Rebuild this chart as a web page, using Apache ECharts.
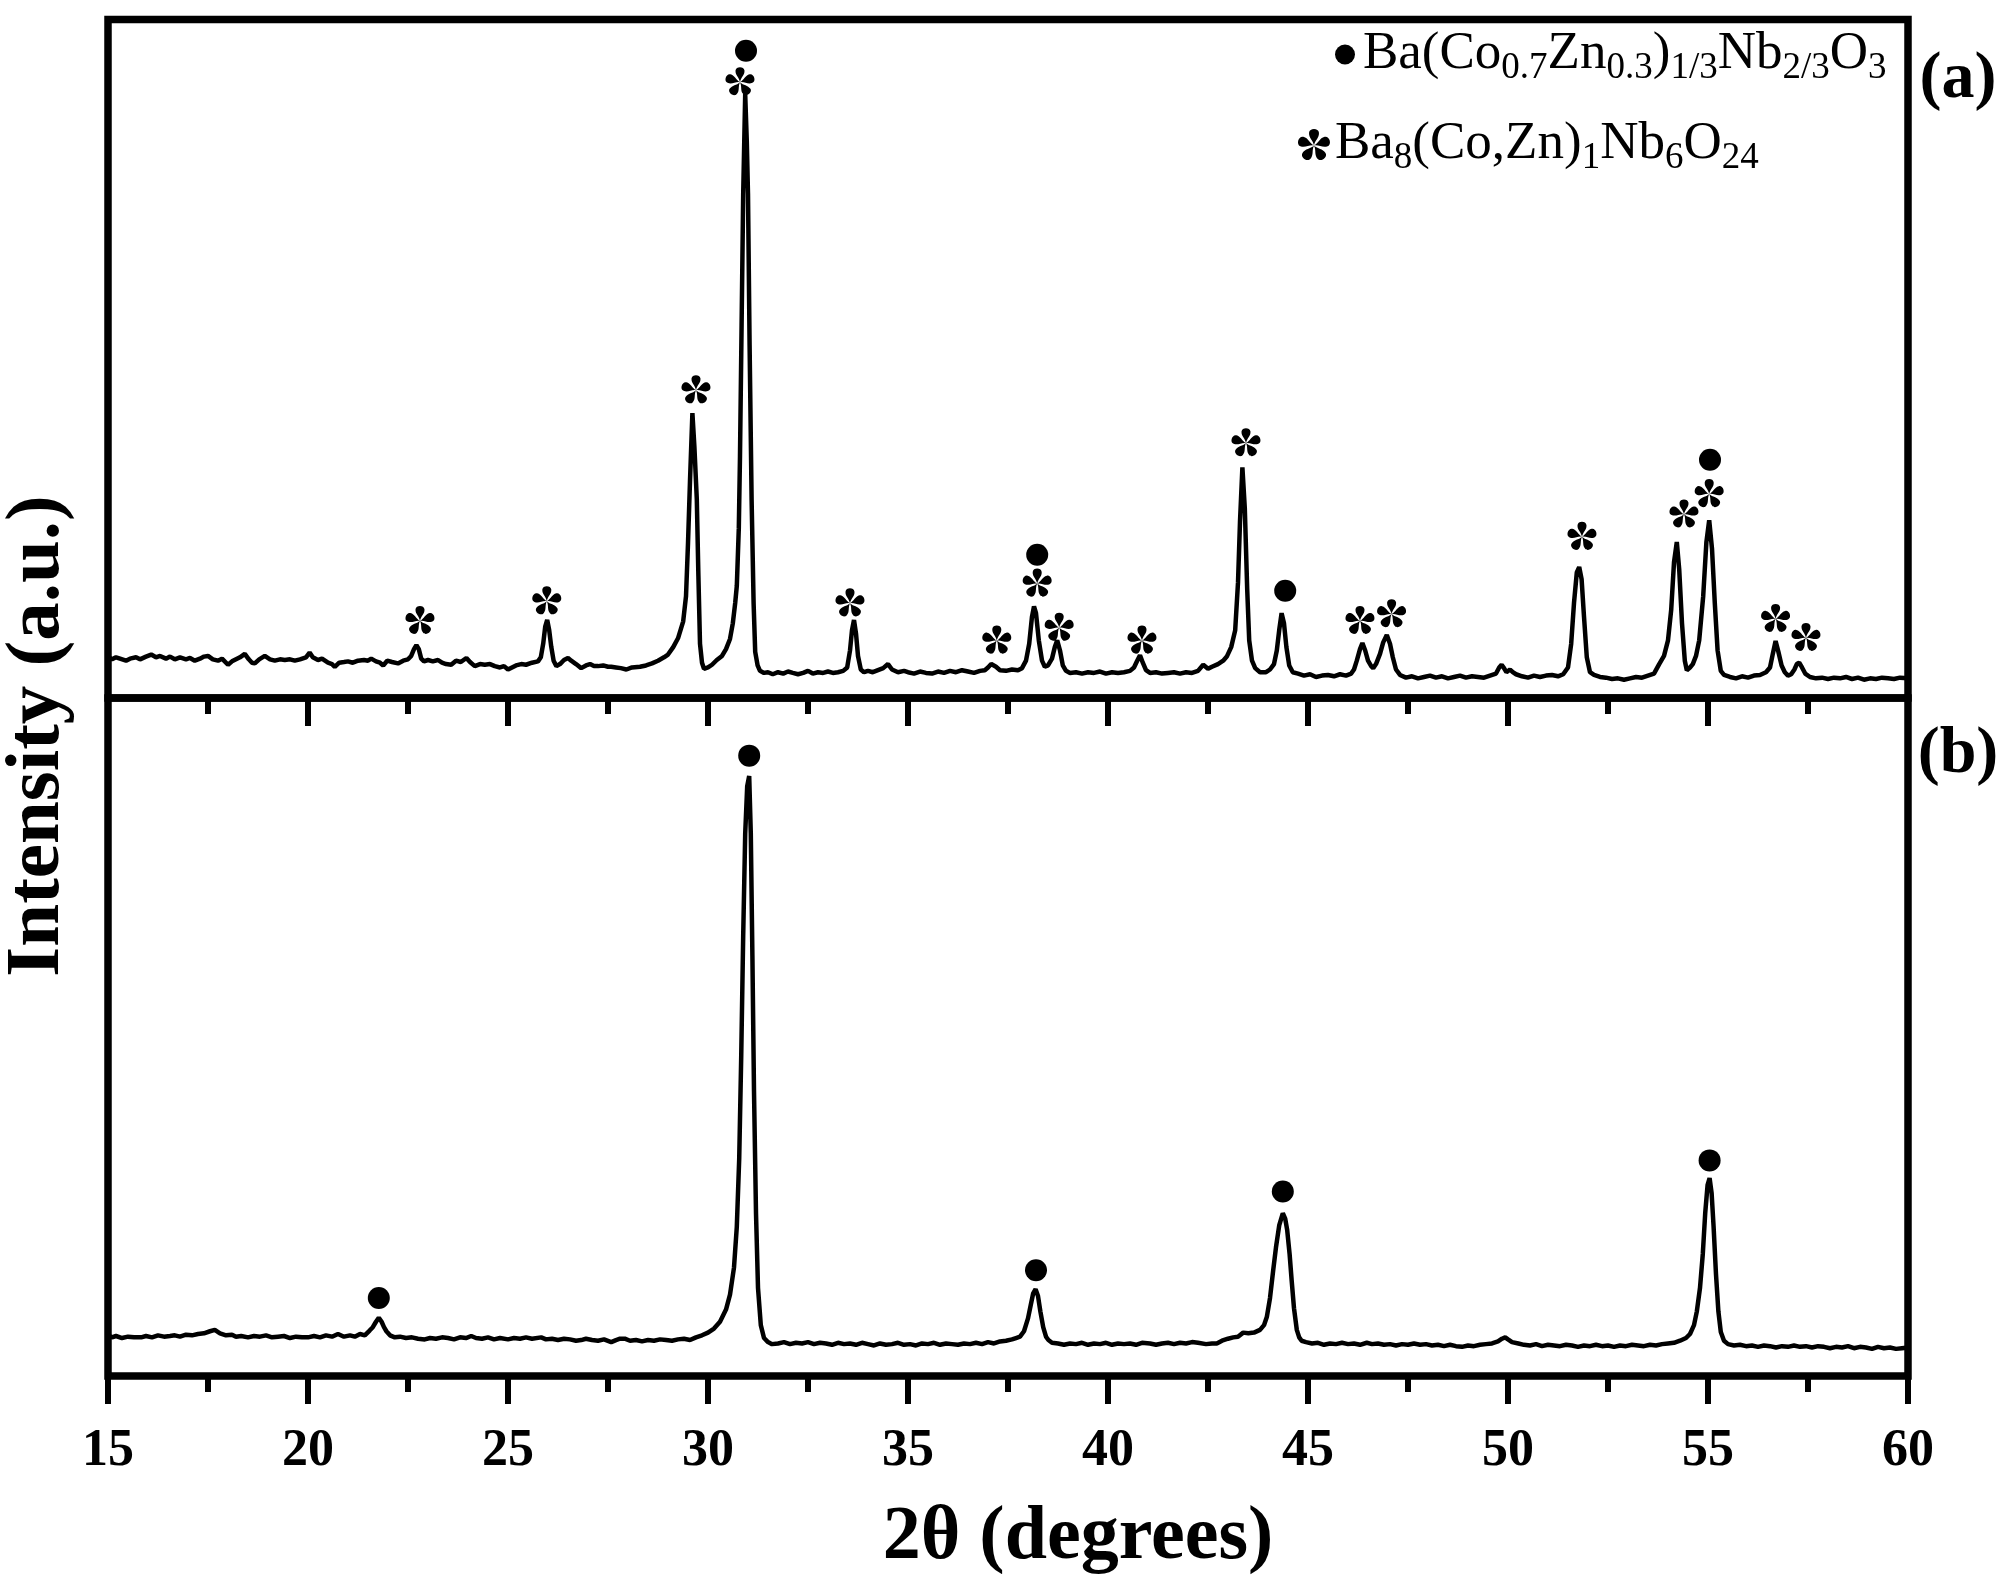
<!DOCTYPE html>
<html>
<head>
<meta charset="utf-8">
<script src="https://cdn.jsdelivr.net/npm/echarts@6/dist/echarts.min.js"></script>
<style>
html,body{margin:0;padding:0;background:#fff;}
#xrd{width:2008px;height:1590px;}
</style>
</head>
<body>
<div id="xrd"></div>
<script>
// 2theta / intensity pairs (a.u., 0-1000 per panel)
var patternA = [
[15.0,61],[15.1,57],[15.2,60],[15.3,58],[15.45,55],[15.55,58],[15.7,60],[15.8,57],[15.95,61],[16.08,64],
[16.2,60],[16.3,62],[16.45,58],[16.55,61],[16.67,57],[16.8,60],[16.95,57],[17.05,59],[17.17,55],[17.3,58],
[17.4,61],[17.5,62],[17.62,57],[17.75,55],[17.85,58],[18.0,49],[18.1,54],[18.2,57],[18.3,60],[18.42,65],
[18.52,57],[18.6,52],[18.67,51],[18.78,57],[18.92,62],[19.05,57],[19.17,55],[19.3,57],[19.42,56],[19.55,57],
[19.67,55],[19.8,57],[19.95,60],[20.04,67],[20.12,60],[20.25,56],[20.35,58],[20.5,52],[20.6,50],[20.67,46],
[20.78,52],[20.9,53],[21.0,54],[21.12,52],[21.25,55],[21.4,56],[21.5,55],[21.58,58],[21.7,54],[21.8,52],
[21.88,48],[21.98,55],[22.1,53],[22.25,51],[22.38,55],[22.5,57],[22.58,62],[22.65,72],[22.71,78],[22.77,72],
[22.83,58],[22.9,54],[23.0,56],[23.12,54],[23.25,56],[23.35,52],[23.45,50],[23.58,49],[23.7,55],[23.82,53],
[23.96,59],[24.05,53],[24.17,47],[24.3,50],[24.42,49],[24.55,50],[24.67,47],[24.8,45],[24.9,47],[25.0,42],
[25.1,45],[25.2,48],[25.33,50],[25.45,49],[25.6,52],[25.75,54],[25.82,60],[25.88,80],[25.93,105],[25.98,115],
[26.03,100],[26.08,76],[26.14,55],[26.21,47],[26.3,50],[26.4,56],[26.5,59],[26.58,55],[26.7,50],[26.83,44],
[26.95,48],[27.05,50],[27.15,47],[27.25,47],[27.38,48],[27.5,46],[27.58,46],[27.7,45],[27.82,44],[27.96,42],
[28.1,45],[28.3,46],[28.45,48],[28.6,51],[28.75,55],[28.9,60],[29.0,64],[29.13,75],[29.25,88],[29.38,113],
[29.45,150],[29.5,228],[29.55,320],[29.61,420],[29.66,370],[29.72,293],[29.76,180],[29.8,80],[29.85,52],[29.9,43],
[30.0,45],[30.1,49],[30.22,56],[30.35,62],[30.45,72],[30.55,87],[30.62,110],[30.68,140],[30.72,165],[30.77,250],
[30.8,357],[30.84,550],[30.88,743],[30.93,890],[30.97,820],[31.0,743],[31.04,520],[31.09,293],[31.14,140],[31.18,68],
[31.24,48],[31.3,40],[31.4,37],[31.5,38],[31.62,35],[31.75,38],[31.88,36],[32.0,39],[32.12,37],[32.25,35],
[32.38,37],[32.5,40],[32.62,36],[32.75,38],[32.88,37],[33.0,39],[33.12,37],[33.25,38],[33.38,40],[33.48,45],
[33.55,70],[33.6,100],[33.65,115],[33.7,95],[33.75,62],[33.82,42],[33.9,38],[34.0,40],[34.12,38],[34.25,41],
[34.38,44],[34.5,50],[34.6,42],[34.75,38],[34.9,40],[35.0,38],[35.15,36],[35.3,39],[35.45,37],[35.6,36],
[35.75,39],[35.9,37],[36.05,40],[36.2,38],[36.35,41],[36.5,39],[36.65,37],[36.8,40],[36.92,41],[37.0,45],
[37.08,50],[37.13,52],[37.2,46],[37.3,41],[37.45,40],[37.6,42],[37.75,41],[37.85,44],[37.95,55],[38.03,80],
[38.1,120],[38.15,135],[38.2,125],[38.27,85],[38.35,55],[38.42,46],[38.5,48],[38.6,58],[38.67,75],[38.73,85],
[38.8,70],[38.87,48],[38.95,40],[39.05,37],[39.2,38],[39.35,36],[39.5,38],[39.65,37],[39.8,39],[39.95,36],
[40.1,38],[40.25,37],[40.4,38],[40.55,40],[40.65,45],[40.73,55],[40.8,63],[40.87,52],[40.95,41],[41.05,37],
[41.2,38],[41.35,36],[41.5,37],[41.65,38],[41.8,36],[41.95,38],[42.1,37],[42.25,40],[42.38,49],[42.5,43],
[42.6,46],[42.75,50],[42.88,55],[42.97,61],[43.08,75],[43.18,100],[43.25,170],[43.3,260],[43.36,340],[43.42,280],
[43.48,160],[43.53,85],[43.6,55],[43.68,44],[43.8,38],[43.95,38],[44.05,42],[44.15,50],[44.22,70],[44.28,100],
[44.34,125],[44.4,110],[44.46,75],[44.53,48],[44.62,38],[44.75,36],[44.9,33],[45.05,35],[45.2,31],[45.35,33],
[45.5,34],[45.65,32],[45.8,35],[45.95,33],[46.08,36],[46.15,42],[46.22,55],[46.3,72],[46.36,81],[46.43,70],
[46.5,55],[46.58,47],[46.63,44],[46.7,50],[46.8,65],[46.88,82],[46.97,93],[47.05,80],[47.12,60],[47.2,42],
[47.3,34],[47.45,30],[47.6,32],[47.75,29],[47.9,31],[48.05,33],[48.2,30],[48.35,32],[48.5,29],[48.65,31],
[48.8,33],[48.95,30],[49.1,32],[49.25,31],[49.4,30],[49.55,33],[49.7,36],[49.78,45],[49.84,49],[49.9,44],
[49.96,38],[50.05,42],[50.12,38],[50.2,35],[50.35,32],[50.5,30],[50.65,33],[50.8,31],[50.95,33],[51.1,34],
[51.25,32],[51.38,35],[51.5,45],[51.58,80],[51.65,140],[51.72,185],[51.78,193],[51.84,175],[51.9,120],[51.97,60],
[52.05,38],[52.15,34],[52.3,31],[52.45,30],[52.6,28],[52.75,29],[52.9,27],[53.05,29],[53.2,31],[53.35,30],
[53.5,33],[53.65,36],[53.78,50],[53.9,62],[54.0,85],[54.08,130],[54.15,200],[54.22,230],[54.28,190],[54.35,110],
[54.42,55],[54.47,41],[54.55,45],[54.62,50],[54.7,62],[54.78,85],[54.88,150],[54.96,230],[55.03,262],[55.1,220],
[55.17,140],[55.24,70],[55.32,40],[55.4,34],[55.55,31],[55.7,29],[55.85,32],[56.0,30],[56.15,33],[56.3,34],
[56.45,38],[56.55,45],[56.62,65],[56.69,84],[56.76,68],[56.84,48],[56.92,38],[57.0,33],[57.08,35],[57.16,42],
[57.22,50],[57.28,52],[57.35,45],[57.43,36],[57.55,31],[57.7,29],[57.85,30],[58.0,28],[58.15,30],[58.3,29],
[58.45,31],[58.6,28],[58.75,30],[58.9,27],[59.05,29],[59.2,28],[59.35,30],[59.5,29],[59.65,28],[59.8,30],
[60.0,29]
];

var patternB = [
[15.0,60],[15.1,57],[15.2,59],[15.35,56],[15.5,58],[15.65,57],[15.83,57],[15.95,59],[16.1,57],[16.25,60],
[16.4,58],[16.55,59],[16.67,60],[16.8,58],[16.95,61],[17.1,60],[17.25,62],[17.4,63],[17.55,66],[17.67,68],
[17.8,63],[17.95,60],[18.1,61],[18.2,58],[18.33,59],[18.5,57],[18.65,59],[18.8,58],[18.95,60],[19.1,57],
[19.25,58],[19.4,59],[19.55,56],[19.7,58],[19.85,57],[20.0,57],[20.15,59],[20.3,57],[20.45,60],[20.6,58],
[20.75,62],[20.9,58],[21.05,60],[21.17,58],[21.3,62],[21.42,60],[21.54,67],[21.62,72],[21.7,80],[21.77,86],
[21.84,80],[21.9,72],[21.96,66],[22.05,60],[22.17,57],[22.3,58],[22.45,56],[22.6,57],[22.75,55],[22.92,54],
[23.05,56],[23.2,55],[23.35,57],[23.5,56],[23.65,54],[23.8,57],[23.95,56],[24.08,59],[24.2,56],[24.35,55],
[24.5,57],[24.65,54],[24.8,56],[25.0,54],[25.15,56],[25.3,55],[25.45,57],[25.6,55],[25.83,57],[25.95,54],
[26.1,55],[26.25,53],[26.4,55],[26.55,54],[26.7,52],[26.83,53],[26.95,55],[27.1,53],[27.25,52],[27.4,54],
[27.58,50],[27.7,53],[27.8,55],[27.92,55],[28.05,52],[28.2,53],[28.35,51],[28.5,53],[28.65,52],[28.8,54],
[28.95,53],[29.1,52],[29.25,54],[29.4,55],[29.55,53],[29.7,57],[29.85,60],[30.0,64],[30.15,70],[30.3,80],
[30.45,98],[30.55,120],[30.65,160],[30.72,220],[30.78,320],[30.83,470],[30.88,650],[30.93,800],[30.98,870],[31.03,885],
[31.07,800],[31.11,620],[31.15,420],[31.2,240],[31.25,130],[31.32,75],[31.4,56],[31.5,50],[31.6,47],[31.75,48],
[31.9,50],[32.05,47],[32.2,49],[32.35,48],[32.5,50],[32.65,47],[32.8,49],[32.95,48],[33.1,46],[33.25,49],
[33.4,47],[33.55,48],[33.7,46],[33.85,49],[34.0,47],[34.15,45],[34.3,48],[34.45,46],[34.6,47],[34.75,49],
[34.9,46],[35.05,47],[35.2,45],[35.35,48],[35.5,47],[35.65,49],[35.8,46],[35.95,48],[36.1,47],[36.25,46],
[36.4,48],[36.55,47],[36.7,49],[36.85,47],[37.0,50],[37.15,48],[37.3,51],[37.45,52],[37.6,54],[37.7,56],
[37.8,58],[37.9,66],[38.0,85],[38.07,105],[38.13,122],[38.19,128],[38.25,118],[38.31,95],[38.38,72],[38.45,58],
[38.51,53],[38.6,49],[38.75,48],[38.9,46],[39.05,48],[39.2,47],[39.35,49],[39.5,46],[39.65,48],[39.8,47],
[39.95,49],[40.1,46],[40.25,48],[40.4,47],[40.55,48],[40.7,46],[40.85,49],[41.05,48],[41.2,46],[41.35,48],
[41.5,49],[41.65,47],[41.8,49],[41.95,48],[42.1,50],[42.25,49],[42.3,51],[42.45,47],[42.6,48],[42.72,48],
[42.85,52],[43.0,55],[43.13,57],[43.25,58],[43.38,64],[43.51,63],[43.65,64],[43.8,68],[43.9,75],[43.97,87],
[44.05,115],[44.13,156],[44.2,190],[44.28,222],[44.37,240],[44.43,232],[44.48,215],[44.54,180],[44.59,142],[44.65,100],
[44.72,68],[44.78,57],[44.84,52],[44.95,50],[45.1,48],[45.25,49],[45.4,46],[45.55,48],[45.7,47],[45.85,49],
[46.0,47],[46.15,48],[46.3,46],[46.47,49],[46.6,47],[46.75,48],[46.9,46],[47.05,47],[47.2,45],[47.35,47],
[47.5,46],[47.65,48],[47.8,46],[47.95,47],[48.1,45],[48.25,46],[48.4,44],[48.55,46],[48.7,44],[48.85,43],
[49.0,45],[49.15,44],[49.3,46],[49.45,47],[49.6,48],[49.75,51],[49.85,55],[49.93,57],[50.0,54],[50.1,50],
[50.26,48],[50.4,46],[50.55,45],[50.7,47],[50.85,44],[51.0,46],[51.15,45],[51.3,44],[51.45,46],[51.6,45],
[51.75,43],[51.9,45],[52.05,44],[52.2,46],[52.35,44],[52.5,45],[52.65,43],[52.8,45],[52.95,44],[53.1,46],
[53.25,45],[53.4,44],[53.55,46],[53.7,45],[53.85,47],[54.0,48],[54.15,49],[54.3,52],[54.45,56],[54.55,62],
[54.65,75],[54.72,95],[54.8,130],[54.87,180],[54.93,240],[54.99,282],[55.04,292],[55.09,270],[55.14,220],[55.2,150],
[55.26,95],[55.32,65],[55.4,52],[55.5,47],[55.65,45],[55.8,46],[55.95,44],[56.1,45],[56.25,43],[56.4,45],
[56.55,44],[56.7,42],[56.85,44],[57.0,43],[57.15,45],[57.3,43],[57.45,44],[57.6,42],[57.75,44],[57.9,43],
[58.05,41],[58.2,43],[58.35,42],[58.5,44],[58.65,41],[58.8,43],[58.95,42],[59.1,40],[59.25,43],[59.4,41],
[59.55,42],[59.7,40],[59.85,41],[60.0,42]
];

// peak marks: [2theta, height of the mark]
var dotsA = [[30.95,954],[38.23,211],[44.43,158],[55.05,351]];
var starsA = [[22.8,115],[25.97,144],[29.7,455],[30.8,909],[33.55,141],[37.22,86],[38.23,170],[38.78,105],
  [40.85,86],[43.45,377],[46.3,115],[47.09,125],[51.85,239],[54.4,272],[55.03,302],[56.69,118],[57.45,90]];
var dotsB = [[21.77,115],[31.03,915],[38.2,156],[44.37,272],[55.04,318]];

var phaseDot = 'Ba(Co0.7Zn0.3)1/3Nb2/3O3';
var phaseStar = 'Ba8(Co,Zn)1Nb6O24';
var phaseDotRich = '{n|Ba(Co}{s|0.7}{n|Zn}{s|0.3}{n|)}{s|1/3}{n|Nb}{s|2/3}{n|O}{s|3}';
var phaseStarRich = '{n|Ba}{s|8}{n|(Co,Zn)}{s|1}{n|Nb}{s|6}{n|O}{s|24}';

var serif = '"Liberation Serif","Times New Roman",serif';

// five petal asterisk like the Times glyph
function starPath() {
	var angles = [-90, -18, 54, 126, 198];
	var d = '';
	angles.forEach(function (a) {
		var r = a * Math.PI / 180, c = Math.cos(r), s = Math.sin(r);
		var p = function (u, w) {
			return ((u * c - w * s) * 50).toFixed(2) + ' ' + ((u * s + w * c) * 50).toFixed(2);
		};
		d += 'M0 0 C' + p(0.3, 0.05) + ' ' + p(0.42, 0.3) + ' ' + p(0.72, 0.28) +
			' C' + p(1.0, 0.26) + ' ' + p(1.0, -0.26) + ' ' + p(0.72, -0.28) +
			' C' + p(0.42, -0.3) + ' ' + p(0.3, -0.05) + ' 0 0 Z ';
	});
	return 'path://' + d;
}

var xrdChart = {
	options: {
		myChart: null,
		option: null
	},
	initPage: function () {
		var that = this;
		var myChart = echarts.init(document.getElementById('xrd'));
		that.options.myChart = myChart;
		var star = starPath();

		var richText = {
			n: { fontFamily: serif, fontSize: 53, lineHeight: 64, color: '#000' },
			s: { fontFamily: serif, fontSize: 37, lineHeight: 32, verticalAlign: 'bottom', color: '#000' }
		};
		var frame = { show: true, borderColor: '#000', borderWidth: 7.5, backgroundColor: 'transparent' };
		var tick = { show: true, length: 28, lineStyle: { color: '#000', width: 6 } };
		var minor = { show: true, splitNumber: 2, length: 16, lineStyle: { color: '#000', width: 6 } };
		var hiddenY = {
			type: 'value', min: 0, max: 1000,
			axisLine: { show: false }, axisTick: { show: false },
			axisLabel: { show: false }, splitLine: { show: false }
		};
		var mark = { color: '#000', opacity: 1 };

		that.options.option = {
			backgroundColor: '#fff',
			animation: false,
			grid: [
				Object.assign({ left: 108, right: 100, top: 19.5, height: 678.5 }, frame),
				Object.assign({ left: 108, right: 100, top: 698, height: 678 }, frame)
			],
			xAxis: [{
				gridIndex: 0, type: 'value', min: 15, max: 60, interval: 5,
				axisLine: { show: false }, axisTick: tick, minorTick: minor,
				axisLabel: { show: false }, splitLine: { show: false }
			}, {
				gridIndex: 1, type: 'value', min: 15, max: 60, interval: 5,
				axisLine: { show: false }, axisTick: tick, minorTick: minor,
				splitLine: { show: false },
				axisLabel: {
					margin: 50, color: '#000', fontFamily: serif, fontWeight: 'bold', fontSize: 52
				},
				name: '2θ (degrees)', nameLocation: 'middle', nameGap: 124,
				nameTextStyle: {
					color: '#000', fontFamily: serif, fontWeight: 'bold', fontSize: 76,
					padding: [0, 0, 0, 140]
				}
			}],
			yAxis: [
				Object.assign({ gridIndex: 0 }, hiddenY),
				Object.assign({ gridIndex: 1 }, hiddenY)
			],
			legend: [{
				left: 1335, top: 28, padding: 0, selectedMode: false,
				itemWidth: 26, itemHeight: 20,
				data: [{ name: phaseDot, icon: 'circle' }],
				itemStyle: mark,
				formatter: function () { return phaseDotRich; },
				textStyle: { color: '#000', rich: richText }
			}, {
				left: 1298, top: 118, padding: 0, selectedMode: false,
				itemWidth: 32, itemHeight: 32,
				data: [{ name: phaseStar, icon: star }],
				itemStyle: mark,
				formatter: function () { return phaseStarRich; },
				textStyle: { color: '#000', rich: richText }
			}],
			graphic: [{
				type: 'text', x: 38, y: 736, rotation: Math.PI / 2,
				style: {
					text: 'Intensity (a.u.)', fill: '#000', align: 'center', verticalAlign: 'middle',
					font: 'bold 77px ' + serif
				}
			}, {
				type: 'text', x: 1958, y: 80,
				style: { text: '(a)', fill: '#000', align: 'center', verticalAlign: 'middle', font: 'bold 66px ' + serif }
			}, {
				type: 'text', x: 1958, y: 755,
				style: { text: '(b)', fill: '#000', align: 'center', verticalAlign: 'middle', font: 'bold 66px ' + serif }
			}],
			series: [{
				type: 'line', xAxisIndex: 0, yAxisIndex: 0, data: patternA,
				showSymbol: false, lineStyle: { color: '#000', width: 4.5 }, silent: true, z: 3
			}, {
				type: 'line', xAxisIndex: 1, yAxisIndex: 1, data: patternB,
				showSymbol: false, lineStyle: { color: '#000', width: 4.5 }, silent: true, z: 3
			}, {
				name: phaseDot, type: 'scatter', xAxisIndex: 0, yAxisIndex: 0, data: dotsA,
				symbol: 'circle', symbolSize: 22, itemStyle: mark, z: 4
			}, {
				name: phaseStar, type: 'scatter', xAxisIndex: 0, yAxisIndex: 0, data: starsA,
				symbol: star, symbolSize: 29, symbolKeepAspect: true, itemStyle: mark, z: 4
			}, {
				name: phaseDot, type: 'scatter', xAxisIndex: 1, yAxisIndex: 1, data: dotsB,
				symbol: 'circle', symbolSize: 22, itemStyle: mark, z: 4
			}]
		};
		myChart.setOption(that.options.option);
	}
};

xrdChart.initPage();
</script>
</body>
</html>
